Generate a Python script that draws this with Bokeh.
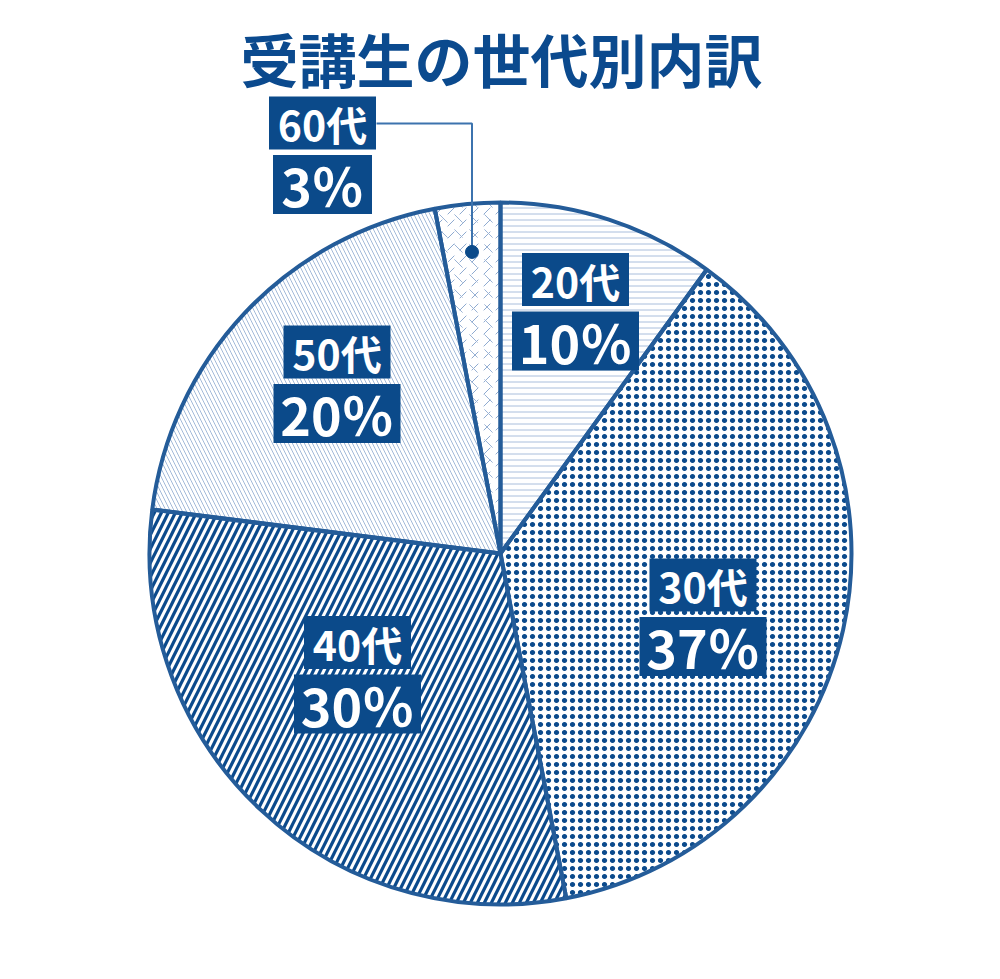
import math
from bokeh.plotting import figure
from bokeh.models import Range1d, ColumnDataSource
from bokeh.core.properties import value
from bokeh.embed import file_html
from bokeh.resources import INLINE

# ---- data ----
chart_title = "受講生の世代別内訳"
categories = ["20代", "30代", "40代", "50代", "60代"]
shares = [10, 37, 30, 20, 3]
pct_labels = ["10％", "37％", "30％", "20％", "3％"]

# ---- styles / layout ----
hatch_patterns = ["horizontal_line", "dot", "right_diagonal_line", "left_diagonal_line", "right_diagonal_dash"]
hatch_colors = ["#a9bedc", "#0b4a8c", "#0b4a8c", "#a3bad9", "#8eaad0"]
hatch_scales = [6, 8, 14, 8, 12]
hatch_weights = [1, 1, 3.2, 1, 1]
# second texture layer (thickens dots / adds speckle)
overlay_patterns = [" ", "ring", " ", " ", "left_diagonal_dash"]
overlay_colors = ["#ffffff", "#0b4a8c", "#ffffff", "#ffffff", "#9ab3d5"]
overlay_scales = [8, 8, 8, 8, 15]
overlay_weights = [1, 1.2, 1, 1, 1]
# label pair centre offsets from pie centre (px, image coords, y down)
label_dx = [75, 202.5, -143, -163.5, -178]
label_dy = [-243.5, 62, 119.5, -171, -400]

NAVY = "#0b4a8a"
EDGE = "#245c99"
W, H = 984, 963
CX, CY, R = 500, 553, 351  # image pixel coords


def Y(y):
    return H - y


total = sum(shares)
starts, ends, mids = [], [], []
acc = 0
for s in shares:
    a0 = acc / total
    acc += s
    a1 = acc / total
    starts.append(math.pi / 2 - 2 * math.pi * a0)
    ends.append(math.pi / 2 - 2 * math.pi * a1)
    mids.append((a0 + a1) / 2)

p = figure(width=W, height=H, output_backend="svg", toolbar_location=None,
           x_range=Range1d(0, W), y_range=Range1d(0, H),
           min_border=0, outline_line_color=None)
p.axis.visible = False
p.grid.visible = False
p.background_fill_color = "white"

src = ColumnDataSource(dict(
    x=[CX] * len(shares), y=[Y(CY)] * len(shares), start=starts, end=ends,
    hp=hatch_patterns, hc=hatch_colors, hs=hatch_scales, hw=hatch_weights,
    op=overlay_patterns, oc=overlay_colors, os=overlay_scales, ow=overlay_weights,
))
p.wedge(x="x", y="y", radius=R, start_angle="start", end_angle="end", direction="clock",
        source=src, fill_color="white", line_color=None,
        hatch_pattern="hp", hatch_color="hc", hatch_scale="hs", hatch_weight="hw")
p.wedge(x="x", y="y", radius=R, start_angle="start", end_angle="end", direction="clock",
        source=src, fill_alpha=0, line_color=None,
        hatch_pattern="op", hatch_color="oc", hatch_scale="os", hatch_weight="ow")
# borders
p.wedge(x="x", y="y", radius=R, start_angle="start", end_angle="end", direction="clock",
        source=src, fill_alpha=0, line_color=EDGE, line_width=4)

# leader for 60代
i6 = len(shares) - 1
ang = 2 * math.pi * mids[i6]
dot_x = CX + 0.863 * R * math.sin(ang)
dot_y = CY - 0.863 * R * math.cos(ang)
lx = CX + label_dx[i6]
ly = CY + label_dy[i6]
p.line([lx + 54, dot_x, dot_x], [Y(ly - 30), Y(ly - 30), Y(dot_y)], line_color="#3c73ae", line_width=2)
p.scatter([dot_x], [Y(dot_y)], size=13, color=NAVY)

# labels
FONT = value("Noto Sans CJK JP")
for i in range(len(shares)):
    cx = CX + label_dx[i]
    cy = CY + label_dy[i]
    ndig = len(pct_labels[i]) - 1
    p.rect([cx], [Y(cy - 30.5)], width=107, height=53, fill_color=NAVY, line_color=None)
    p.rect([cx], [Y(cy + 31)], width=71 + 28 * ndig, height=59, fill_color=NAVY, line_color=None)
    p.text([cx], [Y(cy - 30.5)], text=[categories[i]], text_align="center", text_baseline="middle",
           text_font=FONT, text_font_style="bold", text_font_size="41px", text_color="white")
    p.text([cx], [Y(cy + 31)], text=[pct_labels[i]], text_align="center", text_baseline="middle",
           text_font=FONT, text_font_style="bold", text_font_size="52px", text_color="white")

p.text([501], [Y(57)], text=[chart_title], text_align="center", text_baseline="middle",
       text_font=FONT, text_font_style="bold", text_font_size="58px", text_color="#0b4a8e")

open("out.html", "w").write(file_html(p, INLINE))
